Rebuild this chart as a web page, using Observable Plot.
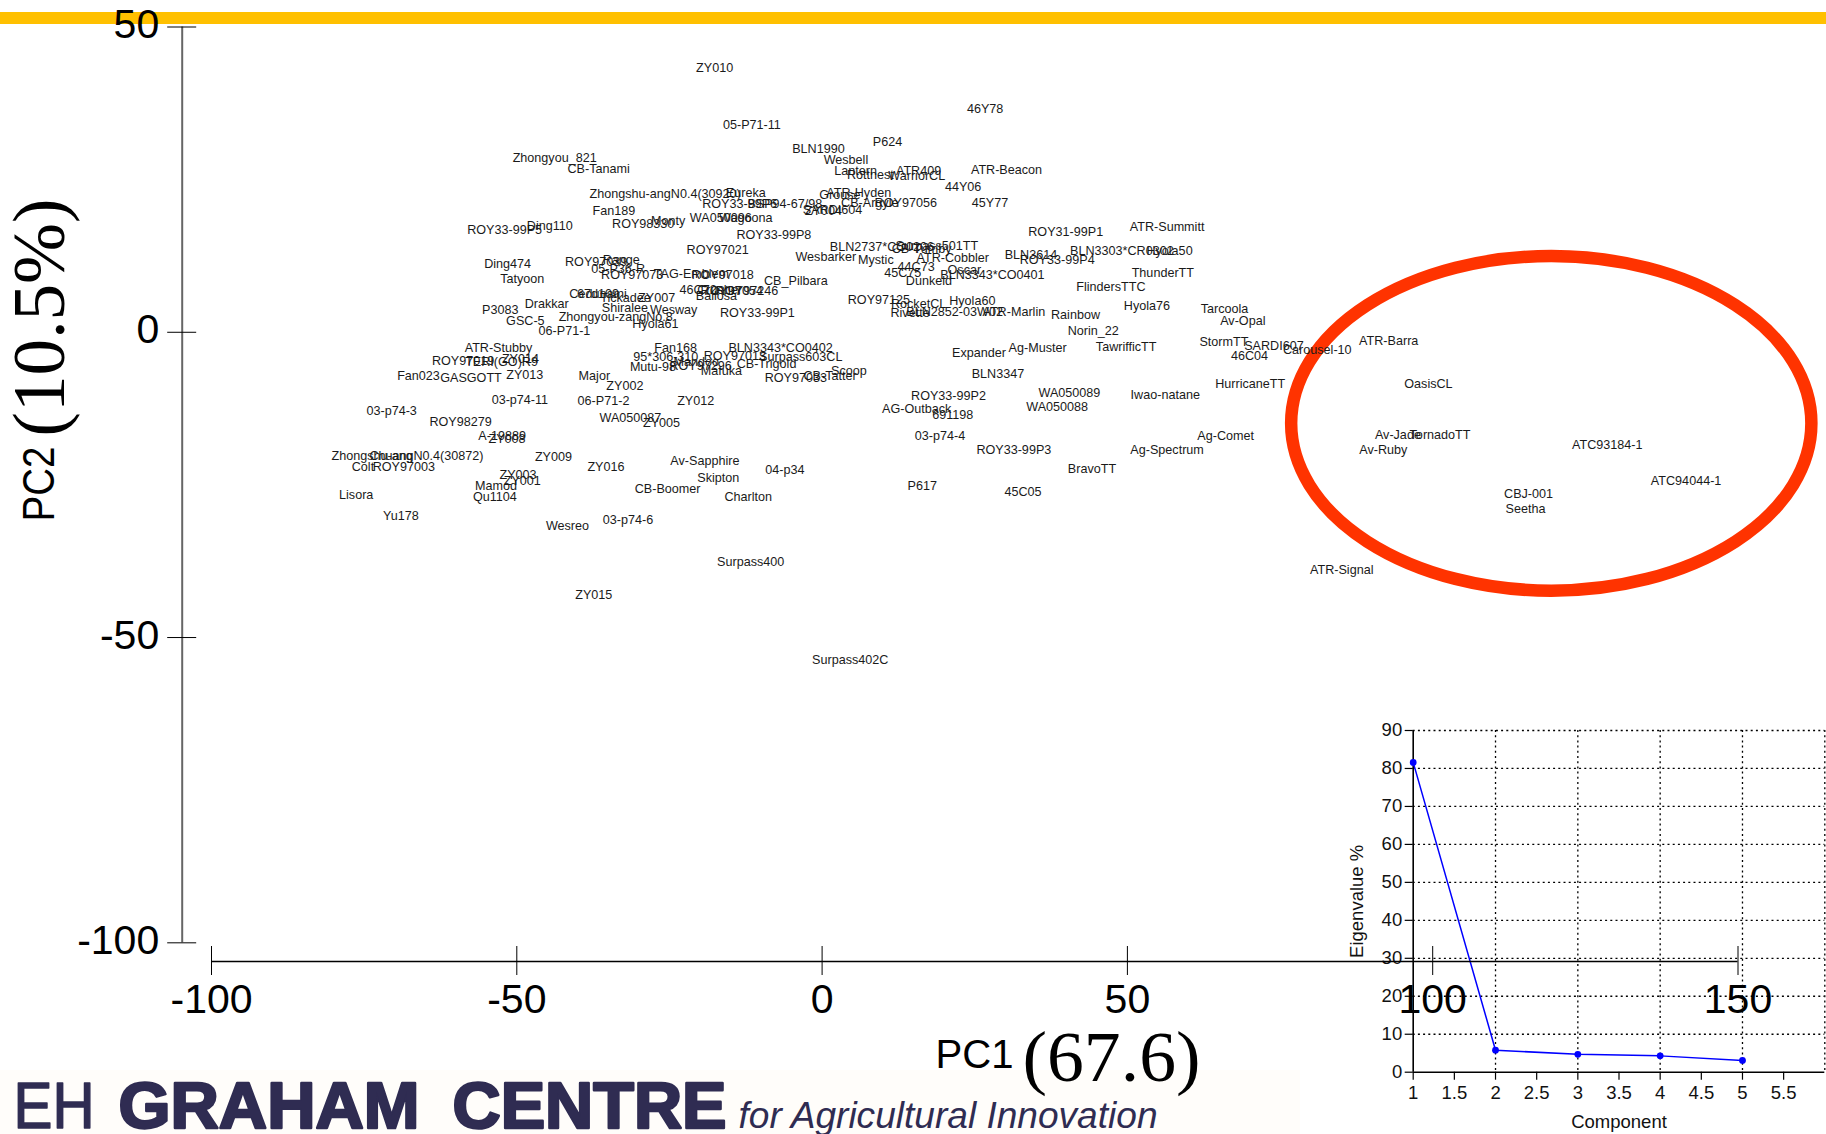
<!DOCTYPE html>
<html><head><meta charset="utf-8">
<script src="https://cdn.jsdelivr.net/npm/d3@7"></script>
<script src="https://cdn.jsdelivr.net/npm/@observablehq/plot@0.6"></script>
<style>
html,body{margin:0;padding:0;background:#fff}
#stage{position:relative;width:1826px;height:1134px;overflow:hidden}
#band{position:absolute;left:0;top:12px;width:1826px;height:12px;background:#ffc000}
#cream{position:absolute;left:0;top:1070px;width:1300px;height:64px;background:#fffdfa}
#stage svg{position:absolute;overflow:visible}
</style></head><body>
<div id="stage"><div id="band"></div><div id="cream"></div></div>
<script>
const cultivars = [
"ZY010","05-P71-11","Zhongyou_821","CB-Tanami","Zhongshu-angN0.4(30920)","Eureka","ROY33-99P6","BSP94-67/98","Fan189","ROY98330",
"Monty","WA050096","Wagoona","ROY33-99P5","Ding110","ROY33-99P8","ROY97021","Ding474","Tatyoon","ROY97039",
"Range","05-P36-R","ROY97073","TAG-Emblem","ROY97018","CB_Pilbara","46C72","ROY97246","Ballosa","ROY97054",
"Crusher","67d109","Cedunami","Tickadee","ZY007","P3083","Drakkar","Shiralee","Wesway","ROY33-99P1",
"GSC-5","Zhongyou-zangNo.8","Hyola61","06-P71-1",
"46Y78","P624","BLN1990","Wesbell","Lantern","Rottnest","ATR409","WarriorCL","ATR-Beacon","44Y06",
"ATR-Hyden","Grouse","CB-Argyle","ROY97056","45Y77","ZY004","SARDI604","ROY31-99P1","ATR-Summitt","BLN2737*CO0206",
"Surpass501TT","CB-Tumby","Wesbarker","Mystic","ATR-Cobbler","BLN3614","ROY33-99P4","BLN3303*CR0302","Hyola50","44C73",
"45C75","Oscar","BLN3343*CO0401","Dunkeld","ThunderTT","FlindersTTC","ROY97125","RocketCL","Hyola60","Rivette",
"BLN2852-03W02","ATR-Marlin","Rainbow","Hyola76","Tarcoola","Av-Opal","Norin_22","Expander","Ag-Muster","TawrifficTT",
"StormTT","SARDI607","46C04","BLN3347","HurricaneTT",
"ATR-Stubby","ROY97019","TERI(GO)R9","ZY014","Fan023","GASGOTT","ZY013","Major","ZY002","Fan168",
"95*306-310","ROY97013","BLN3343*CO0402","Surpass603CL","Mutu-98","ROY97296","Mandoo","CB-Trigold","Mafuka","ROY97033",
"CB-Tatter","Scoop","03-p74-11","06-P71-2","ZY012","03-p74-3","ROY98279","WA050087","ZY005","A-19889",
"ZY008","Zhongshu-ang","ChuangN0.4(30872)","ZY009","Colt","ROY97003","ZY016","Av-Sapphire","ZY003","ZY001",
"Skipton","04-p34","Mamod","Qu1104","Lisora","CB-Boomer","Charlton","Yu178","03-p74-6","Wesreo",
"Surpass400","ZY015","Surpass402C",
"ROY33-99P2","AG-Outback","691198","WA050089","WA050088","Iwao-natane","03-p74-4","ROY33-99P3","Ag-Comet","Ag-Spectrum",
"BravoTT","P617","45C05",
"Carousel-10","ATR-Barra","OasisCL","Av-Jade","TornadoTT","Av-Ruby","ATC93184-1","ATC94044-1","CBJ-001","Seetha","ATR-Signal"
];
const pc1 = [
-17.6,-11.5,-43.8,-36.6,-25.7,-12.5,-13.5,-6.1,-34.1,-29.3,
-25.2,-16.6,-12.5,-52.0,-44.6,-7.9,-17.1,-51.5,-49.1,-37.0,
-32.9,-33.4,-31.1,-21.4,-16.3,-4.3,-20.3,-12.3,-17.3,-14.8,
-16.8,-36.7,-36.7,-32.2,-27.1,-52.7,-45.1,-32.3,-24.3,-10.6,
-48.6,-33.8,-27.3,-42.2,
26.7,10.7,-0.6,3.9,5.5,7.9,15.8,15.5,30.2,23.1,
6.0,2.9,7.8,13.7,27.5,0.2,1.7,39.9,56.5,9.8,
18.8,16.3,0.6,8.8,21.4,34.2,38.5,49.1,56.9,15.4,
13.2,23.3,27.9,17.5,55.8,47.3,9.3,15.8,24.6,14.4,
21.7,31.4,41.5,53.2,65.9,68.9,44.4,25.7,35.3,49.8,
65.8,74.0,70.0,28.8,70.1,
-53.0,-58.8,-52.5,-49.4,-66.1,-57.5,-48.7,-37.3,-32.3,-24.0,
-25.6,-14.3,-6.8,-3.5,-27.7,-19.9,-20.6,-9.1,-16.5,-4.3,
1.3,4.4,-49.5,-35.8,-20.7,-70.5,-59.2,-31.4,-26.3,-52.4,
-51.6,-73.7,-64.8,-44.0,-75.2,-68.5,-35.4,-19.2,-49.8,-49.1,
-17.0,-6.1,-53.4,-53.6,-76.3,-25.3,-12.1,-69.0,-31.8,-41.7,
-11.7,-37.4,4.6,
20.7,15.5,21.4,40.5,38.5,56.2,19.3,31.4,66.1,56.5,
44.2,16.4,32.9,
81.1,92.8,99.3,94.3,101.2,91.9,128.6,141.5,115.7,115.2,85.1
];
const pc2 = [
43.3,33.9,28.5,26.8,22.7,22.9,21.0,21.0,19.9,17.7,
18.2,18.8,18.8,16.8,17.4,15.9,13.5,11.2,8.8,11.5,
11.8,10.3,9.4,9.6,9.4,8.4,6.9,6.7,5.9,6.7,
6.9,6.2,6.2,5.6,5.7,3.6,4.6,4.0,3.6,3.2,
1.9,2.5,1.3,0.2,
36.5,31.2,30.0,28.3,26.5,25.7,26.4,25.6,26.6,23.8,
22.9,22.5,21.2,21.2,21.1,19.8,20.1,16.4,17.2,14.0,
14.1,13.6,12.3,11.8,12.1,12.7,11.8,13.3,13.3,10.7,
9.7,10.2,9.4,8.4,9.7,7.4,5.3,4.6,5.1,3.2,
3.3,3.3,2.8,4.3,3.8,1.8,0.2,-3.4,-2.6,-2.4,
-1.6,-2.2,-3.8,-6.9,-8.5,
-2.5,-4.7,-4.9,-4.4,-7.2,-7.5,-7.0,-7.2,-8.8,-2.6,
-4.0,-3.8,-2.5,-4.0,-5.7,-5.5,-4.8,-5.2,-6.4,-7.5,
-7.2,-6.4,-11.1,-11.3,-11.3,-12.9,-14.7,-14.1,-14.9,-17.0,
-17.5,-20.2,-20.2,-20.5,-22.1,-22.0,-22.1,-21.1,-23.4,-24.4,
-23.9,-22.6,-25.2,-27.0,-26.7,-25.7,-26.9,-30.1,-30.8,-31.8,
-37.7,-43.1,-53.6,
-10.5,-12.6,-13.6,-10.0,-12.3,-10.2,-17.0,-19.2,-17.0,-19.2,
-22.4,-25.1,-26.2,
-2.9,-1.5,-8.4,-16.8,-16.8,-19.2,-18.5,-24.3,-26.4,-29.0,-39.0
];
const pc1Ticks = [-100,-50,0,50,100,150];
const pc2Ticks = [50,0,-50,-100];
const highlight = {pc1:119.5, pc2:-15.0, rx:42.6, ry:27.4};
const components = [1,2,3,4,5];
const eigenvalues = [81.6,5.8,4.7,4.3,3.1];
const compTicks = [1,1.5,2,2.5,3,3.5,4,4.5,5,5.5];
const compGrid = [2,3,4,5,6];
const eigenTicks = [0,10,20,30,40,50,60,70,80,90];

const sans = "Liberation Sans, Arial, sans-serif";
const serif = "Liberation Serif, Times New Roman, serif";
const ink = "#000", navy = "#2f2c52";

const W=1826,H=1134,mL=181.7,mT=26.5,mB=173,mR=W-1737.5;
function pxText(str,px,py,o={}){
  return Plot.text([str],{text:d=>d,frameAnchor:"top-left",dx:px-mL,dy:py-mT,textAnchor:"start",lineAnchor:"bottom",fontFamily:sans,fill:ink,...o});
}
// Inset: scree plot
const inset = Plot.plot({
  width:526,height:434,marginLeft:112.7,marginRight:1.7,marginTop:30,marginBottom:62.3,
  style:{background:"transparent",fontFamily:sans,color:"#000"},
  x:{domain:[1,6]},y:{domain:[0,90]},
  marks:[
    Plot.gridX(compGrid,{stroke:"#000",strokeOpacity:1,strokeWidth:1.3,strokeDasharray:"2 3.2"}),
    Plot.gridY(eigenTicks.slice(1),{stroke:"#000",strokeOpacity:1,strokeWidth:1.3,strokeDasharray:"2 3.2"}),
    Plot.axisX(compTicks,{anchor:"bottom",tickSize:8,tickPadding:6,fontSize:18.5,fill:"#111",tickFormat:String,label:"Component",labelAnchor:"center",labelArrow:"none",labelOffset:56,strokeWidth:1.2}),
    Plot.axisY(eigenTicks,{anchor:"left",tickSize:8,tickPadding:3,fontSize:18.5,fill:"#111",tickFormat:String,label:"Eigenvalue %",labelAnchor:"center",labelArrow:"none",labelOffset:63,strokeWidth:1.2}),
    Plot.ruleX([1],{stroke:"#000",strokeWidth:1.6}),
    Plot.ruleY([0],{stroke:"#000",strokeWidth:1.6}),
    Plot.line(components,{x:d=>d,y:(d,i)=>eigenvalues[i],stroke:"#0000ff",strokeWidth:1.5}),
    Plot.dot(components,{x:d=>d,y:(d,i)=>eigenvalues[i],fill:"#0000ff",r:3.4})
  ]
});
inset.style.left="1300px";inset.style.top="700px";
document.getElementById("stage").appendChild(inset);

// Main PCA biplot
const xMin=-104.8,yMin=-103.06;
const main = Plot.plot({
  width:W,height:H,marginLeft:mL,marginRight:mR,marginTop:mT,marginBottom:mB,
  style:{background:"transparent",fontFamily:sans,color:"#000"},
  x:{domain:[xMin,150]},y:{domain:[yMin,50]},
  marks:[
    function(index,{x,y}){
      return d3.create("svg:ellipse")
        .attr("cx",x(highlight.pc1)).attr("cy",y(highlight.pc2))
        .attr("rx",x(highlight.pc1+highlight.rx)-x(highlight.pc1))
        .attr("ry",y(highlight.pc2-highlight.ry)-y(highlight.pc2))
        .attr("fill","none").attr("stroke","#ff3300").attr("stroke-width",12.5).node();
    },
    Plot.ruleX([xMin],{y1:-100,y2:50,stroke:"#666",strokeWidth:2}),
    Plot.ruleY([yMin],{x1:-100,x2:150,stroke:"#000",strokeWidth:1.5}),
    Plot.axisY(pc2Ticks,{anchor:"left",tickSize:29,dx:14.5,tickFormat:()=>"",label:null,strokeWidth:1}),
    Plot.axisY(pc2Ticks,{anchor:"left",tickSize:0,tickPadding:23,dy:-2,fontSize:41,tickFormat:String,label:null}),
    Plot.axisX(pc1Ticks,{anchor:"bottom",tickSize:29,dy:-15,tickPadding:8,fontSize:41,tickFormat:String,label:null,strokeWidth:1}),
    Plot.text(cultivars,{x:(d,i)=>pc1[i],y:(d,i)=>pc2[i],text:d=>d,fontSize:12.6,fill:"#1a1a1a",fontFamily:sans}),
    pxText("PC1",935,1067,{fontSize:40}),
    pxText("(67.6)",1022,1080,{fontSize:72,fontFamily:serif}),
    pxText("PC2",53,521,{fontSize:45,rotate:-90}),
    pxText("(10.5%)",63,436,{fontSize:74,fontFamily:serif,rotate:-90}),
    pxText("EH",13,1127,{fontSize:65,fill:navy,stroke:navy,strokeWidth:1.5}),
    pxText("GRAHAM",118,1127,{fontSize:65,fontWeight:"bold",fill:navy,stroke:navy,strokeWidth:2.5}),
    pxText("CENTRE",452,1127,{fontSize:65,fontWeight:"bold",fill:navy,stroke:navy,strokeWidth:2.5}),
    pxText("for Agricultural Innovation",738,1127,{fontSize:37,fontStyle:"italic",fill:navy})
  ]
});
main.style.left="0px";main.style.top="0px";
document.getElementById("stage").appendChild(main);

// Fit stretched display text to the widths in the reference
const fit = {"PC1":78,"PC2":75,"(67.6)":178,"(10.5%)":238,"EH":81,"GRAHAM":301,"CENTRE":274,"for Agricultural Innovation":419};
main.querySelectorAll("text").forEach(t=>{
  if(!t.textContent){t.remove();return;}
  const w=fit[t.textContent];
  if(w){t.setAttribute("textLength",w);t.setAttribute("lengthAdjust","spacingAndGlyphs");}
});
</script>
</body></html>
